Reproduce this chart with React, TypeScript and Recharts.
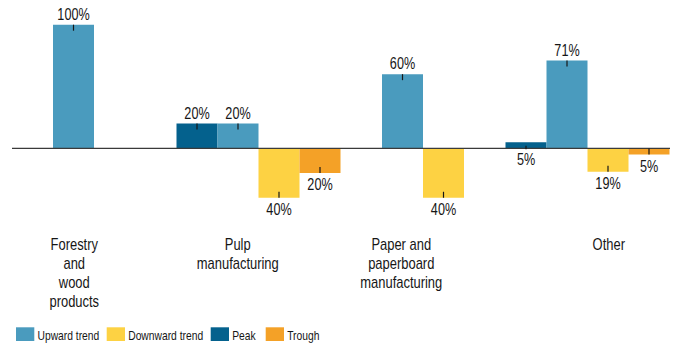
import { BarChart, Bar, XAxis, YAxis, ReferenceLine, Legend, LabelList } from "recharts"

// categories and the way their labels wrap
const categories = [
  "Forestry and wood products",
  "Pulp manufacturing",
  "Paper and paperboard manufacturing",
  "Other",
]
const categoryLines = [
  ["Forestry", "and", "wood", "products"],
  ["Pulp", "manufacturing"],
  ["Paper and", "paperboard", "manufacturing"],
  ["Other"],
]

// share of firms, in %
const peak = [null, 20, null, 5]
const upward = [100, 20, 60, 71]
const downward = [null, -40, -40, -19]
const trough = [null, -20, null, -5]

const COLORS = {
  upward: "#4a9bbe",
  downward: "#fdd243",
  peak: "#04618d",
  trough: "#f4a127",
}

const FONT = "'Liberation Sans', Arial, Helvetica, sans-serif"
const SQUEEZE = 0.78
const INK = "#161616"

const chartData = categories.map((name, i) => ({
  name,
  peak: peak[i],
  upward: upward[i],
  downward: downward[i],
  trough: trough[i],
}))

function Narrow({ x, y, size, anchor = "middle", children }: any) {
  return (
    <text
      transform={`translate(${x},${y}) scale(${SQUEEZE},1)`}
      textAnchor={anchor}
      fontSize={size}
      fontFamily={FONT}
      fill={INK}
    >
      {children}
    </text>
  )
}

function ValueLabel(props: any) {
  const { x, y, width, height, value } = props
  if (value === null || value === undefined) return null
  const cx = Number(x) + Number(width) / 2
  const y0 = Number(y)
  const y1 = Number(y) + Number(height)
  const top = Math.min(y0, y1)
  const bottom = Math.max(y0, y1)
  let t1: number, t2: number, ty: number
  if (value >= 10) {
    t1 = top
    t2 = top + 6
    ty = top - 5
  } else if (value > 0) {
    // tiny positive bar: label goes under the zero line
    t1 = top + 3.5
    t2 = bottom + 1
    ty = bottom + 17
  } else {
    t1 = bottom - 6
    t2 = bottom
    ty = bottom + 17
  }
  return (
    <g>
      <line x1={cx} x2={cx} y1={t1} y2={t2} stroke={INK} strokeWidth={1.2} />
      <Narrow x={cx} y={ty} size={16.2}>{`${Math.abs(value)}%`}</Narrow>
    </g>
  )
}

// labels in the source sit a little off the group centre
const labelNudge = [-20, -21, -22, 21]

function CategoryTick(props: any) {
  const { x, y, payload } = props
  const i = categories.indexOf(payload.value)
  const lines = categoryLines[i] || [payload.value]
  return (
    <g>
      {lines.map((line, k) => (
        <Narrow key={k} x={x + labelNudge[i]} y={y + 19 + k * 19.3} size={16.6}>
          {line}
        </Narrow>
      ))}
    </g>
  )
}

const legendItems = [
  { label: "Upward trend", color: COLORS.upward, x: 16 },
  { label: "Downward trend", color: COLORS.downward, x: 106.7 },
  { label: "Peak", color: COLORS.peak, x: 210.7 },
  { label: "Trough", color: COLORS.trough, x: 265.7 },
]

function LegendContent() {
  return (
    <svg width={673} height={22} style={{ display: "block" }}>
      {legendItems.map((it) => (
        <g key={it.label}>
          <rect x={it.x} y={5.3} width={18.3} height={13.7} fill={it.color} />
          <Narrow x={it.x + 21.5} y={18.2} size={13.2} anchor="start">
            {it.label}
          </Narrow>
        </g>
      ))}
    </svg>
  )
}

export default function App() {
  return (
    <div style={{ position: "absolute", left: 0, top: 0, width: 673, height: 344, background: "#fff" }}>
      <BarChart
        width={673}
        height={344}
        data={chartData}
        margin={{ top: 24.7, right: 3, left: 12, bottom: 0 }}
        barCategoryGap={0}
        barGap={0}
      >
        <YAxis hide domain={[-60, 100]} />
        <XAxis
          dataKey="name"
          axisLine={false}
          tickLine={false}
          interval={0}
          height={99.5}
          tick={<CategoryTick />}
        />
        <Legend
          verticalAlign="bottom"
          height={22}
          content={<LegendContent />}
          wrapperStyle={{ left: 0, bottom: 0, width: 673 }}
        />
        <Bar dataKey="peak" fill={COLORS.peak} isAnimationActive={false}>
          <LabelList dataKey="peak" content={<ValueLabel />} />
        </Bar>
        <Bar dataKey="upward" fill={COLORS.upward} isAnimationActive={false}>
          <LabelList dataKey="upward" content={<ValueLabel />} />
        </Bar>
        <Bar dataKey="downward" fill={COLORS.downward} isAnimationActive={false}>
          <LabelList dataKey="downward" content={<ValueLabel />} />
        </Bar>
        <Bar dataKey="trough" fill={COLORS.trough} isAnimationActive={false}>
          <LabelList dataKey="trough" content={<ValueLabel />} />
        </Bar>
        <ReferenceLine y={0} stroke="#3a3a3a" strokeWidth={1.2} />
      </BarChart>
    </div>
  )
}
